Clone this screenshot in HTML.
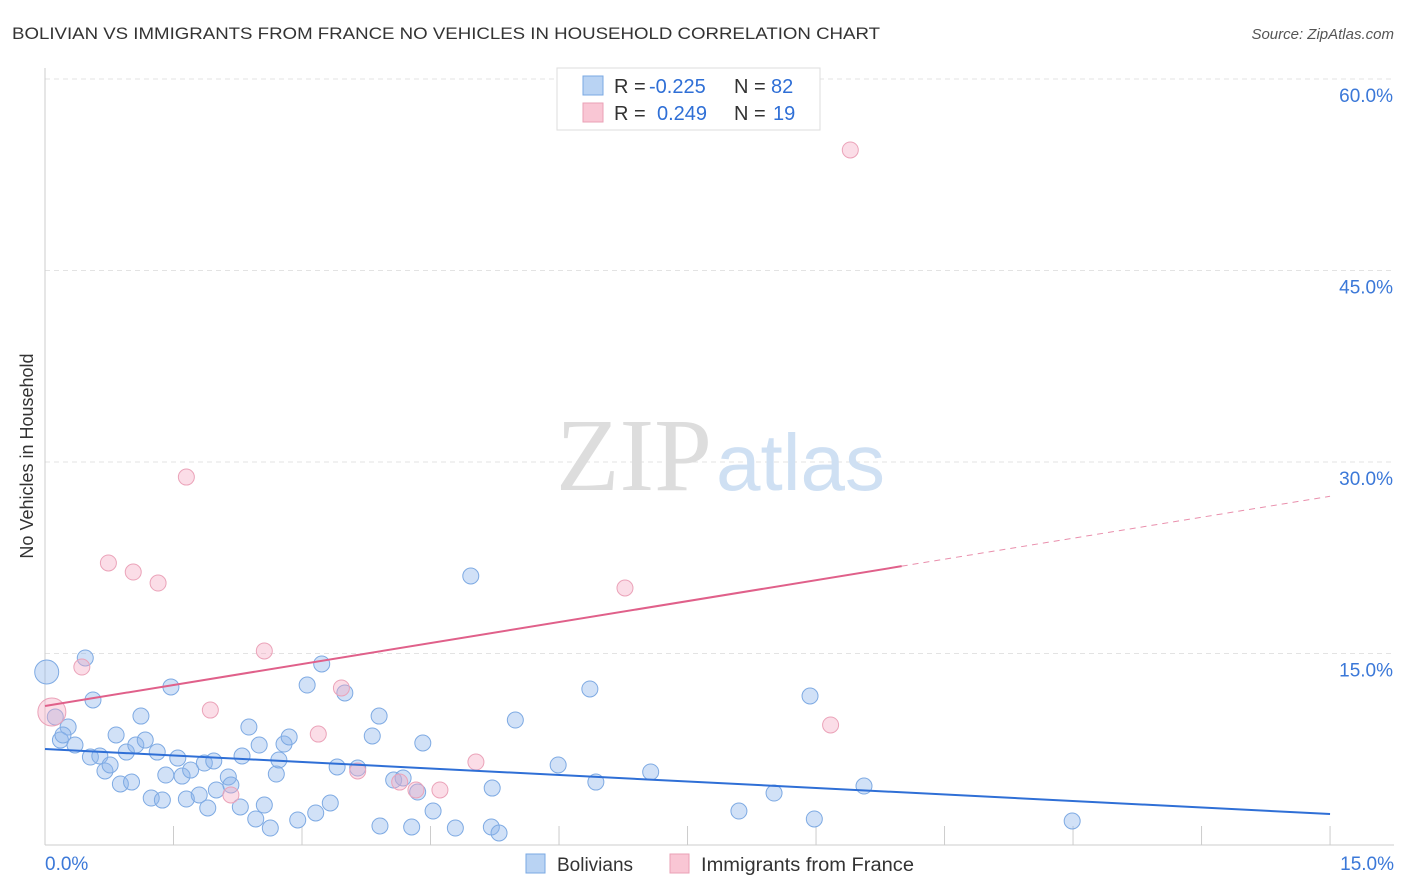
<!DOCTYPE html>
<html><head><meta charset="utf-8"><style>
body{margin:0;background:#fff;font-family:"Liberation Sans",sans-serif;}
svg{display:block}
</style></head><body>
<svg id="chart" width="1406" height="892">
<text x="12" y="39" font-size="17" fill="#333" textLength="868" lengthAdjust="spacingAndGlyphs">BOLIVIAN VS IMMIGRANTS FROM FRANCE NO VEHICLES IN HOUSEHOLD CORRELATION CHART</text>
<text x="1394" y="39" font-size="15" fill="#555" font-style="italic" text-anchor="end">Source: ZipAtlas.com</text>
<text x="33" y="456" font-size="18" fill="#333" text-anchor="middle" transform="rotate(-90 33 456)">No Vehicles in Household</text>
<g id="grid"></g><g id="axes"></g>
<text x="712" y="490" font-size="104" fill="#ddd" text-anchor="end" font-family="Liberation Serif">ZIP</text>
<text x="716" y="490" font-size="80" fill="#cfe0f3">atlas</text>
<g id="pts"></g><g id="lines"></g>
<g>
<rect x="557" y="68" width="263" height="62" fill="#fff" stroke="#ddd"/>
<rect x="583" y="76" width="20" height="19" fill="#b9d3f3" stroke="#7aa8e3"/>
<rect x="583" y="103" width="20" height="19" fill="#f9c6d4" stroke="#eaa0b6"/>
<text x="614" y="93" font-size="20" fill="#333">R = <tspan x="649" fill="#2f6fd6">-0.225</tspan><tspan x="734">N = </tspan><tspan x="771" fill="#2f6fd6">82</tspan></text>
<text x="614" y="120" font-size="20" fill="#333">R = <tspan x="657" fill="#2f6fd6">0.249</tspan><tspan x="734">N = </tspan><tspan x="773" fill="#2f6fd6">19</tspan></text>
</g>
<g>
<rect x="526" y="854" width="19" height="19" fill="#b9d3f3" stroke="#7aa8e3"/>
<text x="557" y="871" font-size="19" fill="#333">Bolivians</text>
<rect x="670" y="854" width="19" height="19" fill="#f9c6d4" stroke="#eaa0b6"/>
<text x="701" y="871" font-size="19" fill="#333" textLength="213" lengthAdjust="spacingAndGlyphs">Immigrants from France</text>
</g>
</svg>
<script>
const yTicks=[15,30,45,60];
const xTickLabels=["0.0%","15.0%"];
const blueX=[0.02,0.12,0.47,0.56,0.27,0.18,0.35,0.21,0.53,0.64,0.70,0.76,0.83,0.88,0.95,1.01,1.06,1.12,1.17,1.24,1.31,1.37,1.41,1.47,1.55,1.60,1.65,1.70,1.80,1.86,1.90,1.97,2.00,2.14,2.17,2.28,2.30,2.38,2.46,2.50,2.56,2.63,2.70,2.73,2.79,2.85,2.95,3.06,3.16,3.23,3.33,3.41,3.50,3.65,3.82,3.90,3.91,4.07,4.18,4.28,4.35,4.41,4.53,4.79,4.97,5.21,5.22,5.30,5.49,5.99,6.36,6.43,7.07,8.10,8.51,8.93,8.98,9.56,11.99];
const blueY=[13.55,10.03,14.65,11.36,9.24,8.22,7.83,8.62,6.89,6.97,5.80,6.27,8.62,4.78,7.28,4.93,7.83,10.10,8.22,3.68,7.28,3.52,5.48,12.38,6.81,5.40,3.60,5.87,3.92,6.42,2.90,6.58,4.31,5.33,4.70,2.98,6.97,9.24,2.04,7.83,3.13,1.33,5.56,6.66,7.91,8.46,1.96,12.53,2.51,14.18,3.29,6.11,11.91,6.03,8.54,10.10,1.49,5.09,5.25,1.41,4.15,7.99,2.66,1.33,21.07,1.41,4.46,0.94,9.79,6.27,12.22,4.93,5.72,2.66,4.07,11.67,2.04,4.62,1.88];
const pinkX=[0.08,0.43,0.74,1.03,1.32,1.65,1.93,2.17,2.56,3.19,3.46,3.65,4.14,4.33,4.61,5.03,6.77,9.17,9.40];
const pinkY=[10.42,13.94,22.09,21.38,20.52,28.82,10.57,3.92,15.20,8.69,12.30,5.80,4.93,4.31,4.31,6.50,20.13,9.40,54.44];
const blueTrend=[7.52,2.43];
const pinkTrend=[10.89,1.095];
const X=v=>45+v*85.67, Y=v=>845-v*12.767;
const NS="http://www.w3.org/2000/svg";
function mk(p,t,a){const e=document.createElementNS(NS,t);for(const k in a)e.setAttribute(k,a[k]);p.appendChild(e);return e;}
const grid=document.getElementById('grid'),axes=document.getElementById('axes'),pts=document.getElementById('pts'),lines=document.getElementById('lines');
yTicks.forEach(t=>{const l=mk(grid,'line',{x1:45,x2:1394,y1:Y(t),y2:Y(t),stroke:'#e3e3e3','stroke-dasharray':'5,4'});


const tx=mk(grid,'text',{x:1393,y:Y(t)+23,'font-size':19,fill:'#3b78d8','text-anchor':'end'});tx.textContent=t.toFixed(1)+'%';

});
const ax=mk(axes,'line',{x1:45,x2:45,y1:68,y2:845,stroke:'#ccc'});


const bx=mk(axes,'line',{x1:45,x2:1394,y1:845,y2:845,stroke:'#ccc'});


for(let i=1;i<=10;i++){const t=mk(axes,'line',{x1:X(i*1.5),x2:X(i*1.5),y1:826,y2:845,stroke:'#ccc'});

}
[[0,'start',45],[15,'end',1394]].forEach((d,i)=>{const t=mk(axes,'text',{x:d[2],y:870,'font-size':19,fill:'#3b78d8','text-anchor':d[1]});t.textContent=xTickLabels[i];

});
blueX.forEach((x,i)=>{const c=mk(pts,'circle',{cx:X(x),cy:Y(blueY[i]),r:i==0?12:8,fill:'rgba(140,180,235,0.4)',stroke:'#7eaae3','stroke-width':1});

});
pinkX.forEach((x,i)=>{const c=mk(pts,'circle',{cx:X(x),cy:Y(pinkY[i]),r:i==0?14:8,fill:'rgba(245,170,195,0.4)',stroke:'#eba3b9','stroke-width':1});

});
const bl=mk(lines,'line',{x1:X(0),y1:Y(blueTrend[0]),x2:X(15),y2:Y(blueTrend[1]),stroke:'#2f6fd6','stroke-width':2});


const pf=x=>pinkTrend[0]+pinkTrend[1]*x;
const pl=mk(lines,'line',{x1:X(0),y1:Y(pf(0)),x2:X(10),y2:Y(pf(10)),stroke:'#e0608a','stroke-width':2});


const pd=mk(lines,'line',{x1:X(10),y1:Y(pf(10)),x2:X(15),y2:Y(pf(15)),stroke:'#e0608a','stroke-width':1,'stroke-dasharray':'6,5',opacity:0.7});


</script>
</body></html>
